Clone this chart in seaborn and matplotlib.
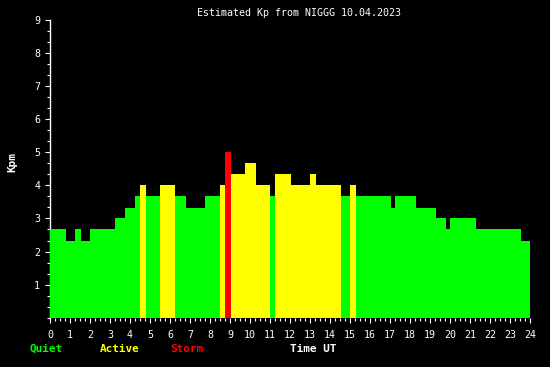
import numpy as np
import pandas as pd
import matplotlib
matplotlib.use("Agg")
import matplotlib.pyplot as plt
import seaborn as sns
from matplotlib.ticker import MultipleLocator, FixedLocator

# ---- data ----
edges = [0, 0.8, 1.25, 1.55, 2.0, 3.25, 3.75, 4.25, 4.5, 4.8, 5.5, 6.25, 6.8,
         7.75, 8.5, 8.75, 9.05, 9.75, 10.3, 11.0, 11.25, 12.05, 13.0, 13.3,
         14.55, 15.0, 15.3, 17.05, 17.25, 18.3, 19.3, 19.8, 20.0, 21.3, 23.55, 24.0]
kp = [2.67, 2.33, 2.67, 2.33, 2.67, 3.0, 3.33, 3.67, 4.0, 3.67, 4.0, 3.67,
      3.33, 3.67, 4.0, 5.0, 4.33, 4.67, 4.0, 3.67, 4.33, 4.0, 4.33, 4.0,
      3.67, 4.0, 3.67, 3.33, 3.67, 3.33, 3.0, 2.67, 3.0, 2.67, 2.33]
x_ticks = list(range(0, 25))
y_ticks = list(range(1, 10))
title = "Estimated Kp from NIGGG 10.04.2023"

def level(v):
    if v >= 5:
        return "Storm"
    if v >= 4:
        return "Active"
    return "Quiet"

centers = [(a + b) / 2 for a, b in zip(edges[:-1], edges[1:])]
df = pd.DataFrame({"t": centers, "kp": kp, "level": [level(v) for v in kp]})
palette = {"Quiet": "#00ff00", "Active": "#ffff00", "Storm": "#ff0000"}

sns.set_style("dark", {"axes.facecolor": "black", "figure.facecolor": "black"})
plt.rcParams["font.family"] = ["DejaVu Sans Mono", "DejaVu Sans"]

W, H = 550, 367
fig = plt.figure(figsize=(W / 100, H / 100), dpi=100, facecolor="black")
ax = fig.add_axes([50 / W, 1 - 317.7 / H, 480 / W, 297.7 / H])
ax.set_facecolor("black")

sns.histplot(data=df, x="t", weights="kp", hue="level", bins=edges,
             palette=palette, hue_order=["Quiet", "Active", "Storm"],
             multiple="layer", element="bars", fill=True, alpha=1,
             linewidth=0, legend=False, ax=ax)

ax.set_xlim(0, 24)
ax.set_ylim(0, 9)
ax.set_xlabel("")
ax.set_ylabel("")
ax.grid(False)
for s in ["top", "right", "bottom"]:
    ax.spines[s].set_visible(False)
ax.spines["left"].set_color("white")
ax.spines["left"].set_linewidth(1)
ax.spines["left"].set_zorder(0.5)

ax.xaxis.set_major_locator(FixedLocator(x_ticks))
ax.xaxis.set_minor_locator(MultipleLocator(0.25))
ax.yaxis.set_major_locator(FixedLocator(y_ticks))
ax.yaxis.set_minor_locator(MultipleLocator(1 / 3))
ax.set_xticklabels([str(v) for v in x_ticks])
ax.set_yticklabels([str(v) for v in y_ticks])

ax.tick_params(axis="x", which="major", direction="out", length=3.6, width=0.8,
               color="white", labelcolor="white", labelsize=7.2, pad=5, bottom=True)
ax.tick_params(axis="x", which="minor", direction="out", length=1.9, width=0.8,
               color="white", bottom=True)
ax.tick_params(axis="y", which="major", direction="out", length=3.6, width=0.8,
               color="white", labelcolor="white", labelsize=7.2, pad=3.5, left=True)
ax.tick_params(axis="y", which="minor", direction="out", length=2.2, width=0.8,
               color="white", left=True)

fig.text(299 / W, 1 - 12.5 / H, title, color="white", fontsize=7.2,
         ha="center", va="center")
fig.text(12 / W, 1 - 162 / H, "Kpm", color="white", fontsize=7.9,
         fontweight="bold", rotation=90, ha="center", va="center")
fig.text(30 / W, 1 - 349 / H, "Quiet", color="#00ff00", fontsize=7.9,
         fontweight="bold", ha="left", va="center")
fig.text(100 / W, 1 - 349 / H, "Active", color="#ffff00", fontsize=7.9,
         fontweight="bold", ha="left", va="center")
fig.text(170 / W, 1 - 349 / H, "Storm", color="#ff0000", fontsize=7.9,
         fontweight="bold", ha="left", va="center")
fig.text(290 / W, 1 - 349 / H, "Time UT", color="white", fontsize=7.9,
         fontweight="bold", ha="left", va="center")

fig.savefig("out.png", dpi=100, facecolor="black")
